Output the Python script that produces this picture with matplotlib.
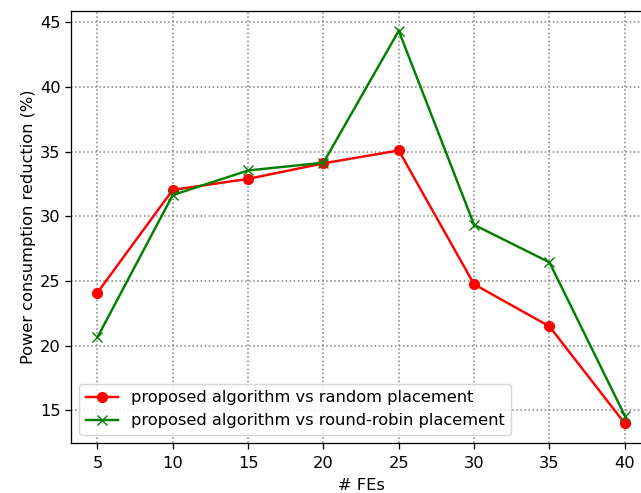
import matplotlib
matplotlib.use("Agg")
import matplotlib.pyplot as plt

fes = [5, 10, 15, 20, 25, 30, 35, 40]
vs_random = [24.1, 32.05, 32.9, 34.1, 35.1, 24.75, 21.5, 14.0]
vs_round_robin = [20.65, 31.65, 33.55, 34.15, 44.35, 29.35, 26.45, 14.6]

# the reference looks like a default-style figure scaled up a little
s = 1.17
plt.rcParams.update({
    "font.size": 10 * s,
    "lines.linewidth": 1.5 * s,
    "lines.markersize": 6 * s,
    "axes.linewidth": 0.8 * s,
    "xtick.major.size": 3.5 * s,
    "ytick.major.size": 3.5 * s,
    "xtick.major.width": 0.8 * s,
    "ytick.major.width": 0.8 * s,
    "xtick.major.pad": 5.5,
})

fig = plt.figure(figsize=(6.41, 4.93), dpi=100)
ax = fig.add_axes([0.1108, 0.1014, 0.905, 0.876])

ax.plot(fes, vs_random, color="red", marker="o", label="proposed algorithm vs random placement")
ax.plot(fes, vs_round_robin, color="green", marker="x", label="proposed algorithm vs round-robin placement")

ax.set_xlabel("# FEs", labelpad=5)
ax.set_ylabel("Power consumption reduction (%)", labelpad=3)
ax.grid(True, linestyle=":", color="gray", linewidth=1.1)
ax.legend(loc="lower left")

fig.savefig("out.png", dpi=100)
